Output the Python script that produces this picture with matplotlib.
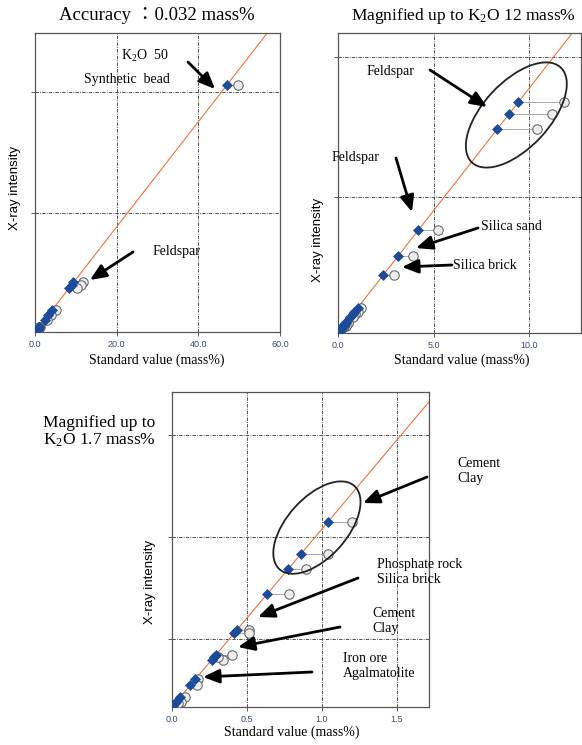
import numpy as np
import matplotlib
matplotlib.use("Agg")
import matplotlib.pyplot as plt
from matplotlib.patches import Ellipse, FancyArrowPatch
from matplotlib.transforms import ScaledTranslation

# K2O calibration: standard (certified) value vs. value from the calibration line
std_value = [49.8, 11.8, 11.2, 10.4, 5.24, 3.93, 2.93,
             1.20, 1.04, 0.895, 0.784, 0.511, 0.517, 0.40, 0.337, 0.31,
             0.175, 0.17, 0.09, 0.06, 0.04, 0.01]
calc_value = [47.0, 9.42, 8.95, 8.33, 4.19, 3.14, 2.36,
              1.04, 0.86, 0.777, 0.633, 0.433, 0.415, 0.293, 0.267, 0.28,
              0.155, 0.122, 0.055, 0.03, 0.022, 0.0]

# calibration line (kcps = intercept + slope * mass%)
cal_intercept = 0.33
cal_slope = 1.745

panel_titles = ["Accuracy \uff1a0.032 mass%",
                "Magnified up to K$_2$O 12 mass%",
                "Magnified up to\nK$_2$O 1.7 mass%"]
x_limits = [(0, 60), (0, 12.7), (0, 1.715)]
y_limits = [(0.33, 99.6), (0.33, 21.7), (0.33, 3.42)]
x_ticks = [[0, 20, 40, 60], [0, 5, 10], [0, 0.5, 1.0, 1.5]]
y_ticks = [[40, 80], [10, 20], [1, 2, 3]]

W, H = 582, 745
SERIF = ["Liberation Serif", "Noto Sans CJK JP", "DejaVu Serif"]
SANS = ["Liberation Sans", "DejaVu Sans"]

plt.rcParams["mathtext.fontset"] = "custom"
plt.rcParams["mathtext.rm"] = "Liberation Serif"
plt.rcParams["mathtext.it"] = "Liberation Serif:italic"
plt.rcParams["mathtext.bf"] = "Liberation Serif:bold"
plt.rcParams["mathtext.default"] = "rm"

fig = plt.figure(figsize=(W / 100, H / 100), dpi=100)


def px(x, y):
    # pixel position measured from the top-left corner -> figure fraction
    return (x / W, 1 - y / H)


def make_axes(left, top, right, bottom):
    return fig.add_axes([left / W, 1 - bottom / H, (right - left) / W, (bottom - top) / H])


axes = [make_axes(35, 33, 280, 332),
        make_axes(338, 33, 581, 333),
        make_axes(172, 392, 429, 707)]

intensity = cal_intercept + cal_slope * np.array(calc_value)
std = np.array(std_value)
calc = np.array(calc_value)

for ax, xl, yl, xt, yt in zip(axes, x_limits, y_limits, x_ticks, y_ticks):
    ax.set_xlim(*xl)
    ax.set_ylim(*yl)
    ax.set_xticks(xt)
    ax.set_xticklabels(["%.1f" % v for v in xt], fontsize=6.5, color="#3b4a6b",
                       family=SANS)
    ax.set_yticks(yt)
    ax.set_yticklabels([])
    ax.tick_params(direction="out", length=3, width=0.6, color="#444444", pad=3)
    for s in ax.spines.values():
        s.set_color("#555555")
        s.set_linewidth(0.9)
    for v in xt:
        if xl[0] < v < xl[1]:
            ax.axvline(v, color="#333333", lw=0.6, ls=(0, (4, 1.5, 1, 1.5)), zorder=1)
    for v in yt:
        ax.axhline(v, color="#333333", lw=0.6, ls=(0, (4, 1.5, 1, 1.5)), zorder=1)

    # calibration line
    xs = np.array([0, xl[1] * 1.1])
    ax.plot(xs, cal_intercept + cal_slope * xs, color="#f0703c", lw=0.8, zorder=2)

    # standard value -> calculated value connectors
    for s_, c_, y_ in zip(std, calc, intensity):
        ax.plot([c_, s_], [y_, y_], color="#a8a8a8", lw=0.7, zorder=3)
    ax.plot(std, intensity, "o", ms=6.8, mfc="#ececec", mec="#5a5a5a", mew=0.7,
            ls="none", zorder=4)
    ax.plot(calc, intensity, "D", ms=5.0, mfc="#1a4c9a", mec="#1a4c9a", mew=0.5,
            ls="none", zorder=5)

# titles
fig.text(*px(157, 16), panel_titles[0], ha="center", va="center", fontsize=13.5, family=SERIF)
fig.text(*px(463, 16), panel_titles[1], ha="center", va="center", fontsize=12.5, family=SERIF)
fig.text(*px(43, 432), panel_titles[2], ha="left", va="center", fontsize=12.5,
         family=SERIF, linespacing=1.05)

# axis labels
for (xx, yy) in [(157, 360), (462, 360), (292, 732)]:
    fig.text(*px(xx, yy), "Standard value (mass%)", ha="center", va="center",
             fontsize=10, family=SERIF)
for (xx, yy) in [(15, 188), (318, 240), (150, 582)]:
    fig.text(*px(xx, yy), "X-ray intensity", ha="center", va="center",
             fontsize=9.5, family=SANS, rotation=90)


def label(x, y, s, ha="left"):
    fig.text(*px(x, y), s, ha=ha, va="center", fontsize=10, family=SERIF,
             linespacing=1.2)


def arrow(tail, head):
    fig.add_artist(FancyArrowPatch(
        px(*tail), px(*head), transform=fig.transFigure,
        arrowstyle="-|>,head_length=0.7,head_width=0.3",
        mutation_scale=14, lw=2.0, color="black", shrinkA=0, shrinkB=0))


# panel 1 notes
label(145, 56, "K$_2$O  50", ha="center")
label(127, 79, "Synthetic  bead", ha="center")
arrow((188, 62), (215, 89))
label(153, 252, "Feldspar")
arrow((133, 252), (90, 280))

# panel 2 notes
label(367, 71, "Feldspar")
arrow((430, 70), (487, 107))
label(332, 157, "Feldspar")
arrow((396, 158), (412, 212))
label(481, 226, "Silica sand")
arrow((478, 228), (416, 248))
label(453, 265, "Silica brick")
arrow((452, 265), (402, 267))

# panel 3 notes
label(457, 471, "Cement\nClay")
arrow((427, 477), (363, 503))
label(377, 572, "Phosphate rock\nSilica brick")
arrow((358, 578), (258, 617))
label(372, 621, "Cement\nClay")
arrow((340, 627), (238, 647))
label(343, 666, "Iron ore\nAgalmatolite")
arrow((312, 672), (203, 677))


# ellipses drawn in inches around a data point
def ring(ax, x, y, w_px, h_px, angle):
    tr = fig.dpi_scale_trans + ScaledTranslation(x, y, ax.transData)
    ax.add_patch(Ellipse((0, 0), w_px / 100, h_px / 100, angle=angle, transform=tr,
                         fill=False, ec="#222222", lw=1.3, zorder=6, clip_on=False))


ring(axes[1], 9.32, 15.86, 130, 66, 47)
ring(axes[2], 0.967, 2.09, 112, 60, 48)

fig.savefig("out.png", dpi=100)
